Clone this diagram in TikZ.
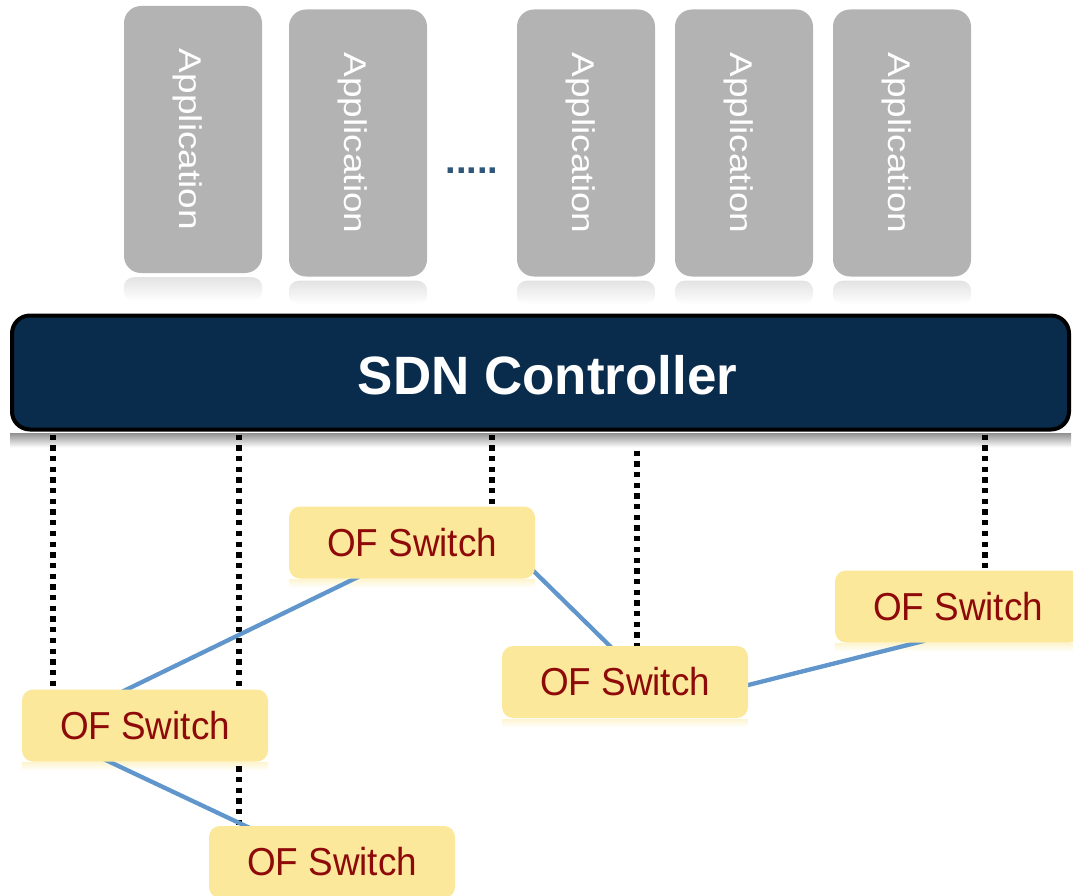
\documentclass[tikz,border=0pt]{standalone}
\usepackage{fontspec}
\usepackage{graphicx}
\setmainfont{Liberation Sans}
\usetikzlibrary{calc}
\definecolor{appgray}{HTML}{B3B3B3}
\definecolor{navy}{HTML}{0A2C4C}
\definecolor{swyellow}{HTML}{FBE89B}
\definecolor{swred}{HTML}{8E0A0A}
\definecolor{linkblue}{HTML}{6096CB}
\definecolor{dotblue}{HTML}{2F5678}
\pgfdeclarelayer{background}
\pgfsetlayers{background,main}
\begin{document}
\begin{tikzpicture}[x=1pt,y=-1pt,
  app/.style={fill=appgray, rounded corners=17pt, minimum width=138pt, minimum height=267pt, inner sep=0pt},
  apptext/.style={rotate=-90, text=white, inner sep=0pt, font=\fontsize{37}{40}\selectfont},
  ctrl/.style={draw=black, line width=4pt, fill=navy, rounded corners=18pt, minimum width=1057pt, minimum height=114pt, inner sep=0pt},
  ctrltext/.style={text=white, inner sep=0pt, font=\fontsize{54}{58}\selectfont\bfseries},
  sw/.style={fill=swyellow, rounded corners=11pt, minimum width=246pt, minimum height=72pt, inner sep=0pt, text=swred, font=\fontsize{39}{42}\selectfont},
  dotstext/.style={text=dotblue, inner sep=0pt, font=\fontsize{38}{40}\selectfont\bfseries},
  ctrlline/.style={line width=5.5pt, dash pattern=on 5.3pt off 5.4pt, black},
  link/.style={line width=4.3pt, linkblue},
  refl/.style={top color=black!11, bottom color=white, draw=none},
  swrefl/.style={top color=swyellow!45, bottom color=white, draw=none},
]
\useasboundingbox (0,0) rectangle (1073,896);

% applications
\node[app] (a1) at (193,139.5) {};
\node[app] (a2) at (358,143) {};
\node[app] (a3) at (586,143) {};
\node[app] (a4) at (744,143) {};
\node[app] (a5) at (902,143) {};
\foreach \i in {1,...,5}{
  \node[apptext] (t\i) at ([xshift=-5.5pt]a\i.center) {\scalebox{1}[0.85]{Application}};
}
\node[dotstext] (dots) at (472,170.5) {.....};

% controller
\node[ctrl] (C) at (540.5,372.5) {};
\node[ctrltext] (Ct) at (547.5,375) {\scalebox{0.98}[1]{SDN Controller}};

% switches
\node[sw] (s1) at (412,542.5) {\scalebox{0.945}[1]{OF Switch}};
\node[sw] (s2) at (145,725.5) {\scalebox{0.945}[1]{OF Switch}};
\node[sw] (s3) at (332,862) {\scalebox{0.945}[1]{OF Switch}};
\node[sw] (s4) at (625,682) {\scalebox{0.945}[1]{OF Switch}};
\node[sw] (s5) at (958,606.5) {\scalebox{0.945}[1]{OF Switch}};

\begin{pgfonlayer}{background}
  % reflections
  \foreach \i in {1,...,5}{
    \shade[refl, rounded corners=10pt] ([yshift=-4pt]a\i.south west) rectangle ([yshift=-28pt]a\i.south east);
  }
  \shade[top color=black!42, bottom color=white] ([yshift=-2pt]C.south west) rectangle ([yshift=-16pt]C.south east);
  \foreach \s in {s1,s2,s4,s5}{
    \shade[swrefl] ([yshift=-1pt]\s.south west) rectangle ([yshift=-9pt]\s.south east);
  }
  % control channels
  \coordinate (cb) at ([yshift=-3pt]C.south);
  \coordinate (cb4) at ([yshift=-19pt]C.south);
  \coordinate (d1) at ([xshift=31pt]s2.north west);
  \coordinate (d2) at ([xshift=30pt]s3.north west);
  \coordinate (d3) at ([xshift=203pt]s1.north west);
  \coordinate (d4) at ([xshift=135pt]s4.north west);
  \coordinate (d5) at ([xshift=150pt]s5.north west);
  \draw[ctrlline] (cb -| d1) -- (d1);
  \draw[ctrlline] (cb -| d2) -- (d2);
  \draw[ctrlline] (cb -| d3) -- (d3);
  \draw[ctrlline] (cb4 -| d4) -- (d4);
  \draw[ctrlline] (cb -| d5) -- (d5);
  % data links
  \draw[link] ([xshift=95pt,yshift=-5pt]s2.north west) -- ([xshift=76pt,yshift=5pt]s1.south west);
  \draw[link] ([xshift=79pt,yshift=4pt]s2.south west) -- ([xshift=47pt,yshift=-5pt]s3.north west);
  \draw[link] ([xshift=-5pt,yshift=11pt]s1.south east) -- ([xshift=113pt,yshift=-5pt]s4.north west);
  \draw[link] ([xshift=-8pt,yshift=-5pt]s4.east) -- ([xshift=90pt,yshift=2pt]s5.south west);
\end{pgfonlayer}
\end{tikzpicture}
\end{document}
